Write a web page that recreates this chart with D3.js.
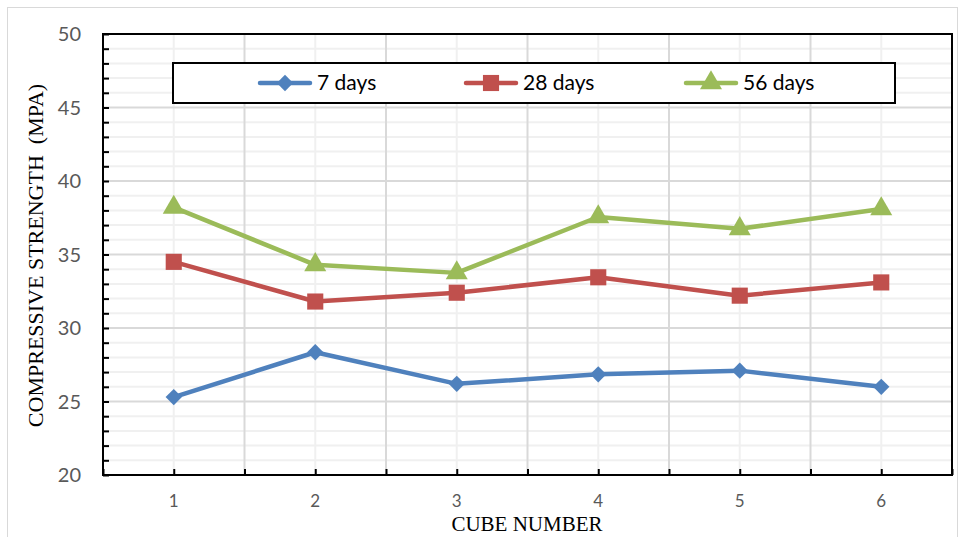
<html>
<head>
  <script src="https://cdnjs.cloudflare.com/ajax/libs/d3/7.8.5/d3.min.js"></script>
  <style>
    body { margin: 0; background: #fff; }
    .ylab, .xlab { font-family: Lato, "Open Sans", sans-serif; fill: #595959; }
    .title { font-family: "Liberation Serif", serif; fill: #000; white-space: pre; }
    .leg { font-family: Lato, "Open Sans", sans-serif; fill: #000; font-size: 21px; }
  </style>
</head>
<body>
  <div id="chart"></div>
  <script>
    // chart data
    var cubes = [1, 2, 3, 4, 5, 6];
    var days7 = [25.3, 28.35, 26.2, 26.85, 27.1, 26.0];
    var days28 = [34.5, 31.8, 32.4, 33.45, 32.2, 33.1];
    var days56 = [38.2, 34.3, 33.75, 37.55, 36.75, 38.1];
    var seriesNames = ["7 days", "28 days", "56 days"];
    var yTicks = [20, 25, 30, 35, 40, 45, 50];

    var series = [
      { name: seriesNames[0], values: days7, color: "#4f81bd", shape: "diamond" },
      { name: seriesNames[1], values: days28, color: "#c0504d", shape: "square" },
      { name: seriesNames[2], values: days56, color: "#9bbb59", shape: "triangle" }
    ];

    var svgWidth = 961, svgHeight = 537;
    var margin = { top: 34, right: 9, bottom: 62, left: 103 };
    var width = svgWidth - margin.left - margin.right;
    var height = svgHeight - margin.top - margin.bottom;

    var svg = d3.select("#chart").append("svg")
      .attr("width", svgWidth)
      .attr("height", svgHeight);

    // outer chart border
    svg.append("rect")
      .attr("x", 7.5).attr("y", 7.5)
      .attr("width", 950).attr("height", 545)
      .attr("fill", "none").attr("stroke", "#d9d9d9");

    var chart = svg.append("g")
      .attr("transform", "translate(" + margin.left + "," + margin.top + ")");

    // category axis: categories sit between tick marks
    var xScale = d3.scaleLinear().domain([0.5, 6.5]).range([0, width]);
    var yScale = d3.scaleLinear().domain([20, 50]).range([height, 0]);

    var minorY = d3.range(21, 50).filter(function(v) { return v % 5 !== 0; });
    var halfX = d3.range(1.5, 6.5, 1);

    // minor gridlines
    chart.selectAll(".gy-minor").data(minorY).enter().append("line")
      .attr("x1", 0).attr("x2", width)
      .attr("y1", function(d) { return yScale(d); }).attr("y2", function(d) { return yScale(d); })
      .attr("stroke", "#f0f0f0").attr("stroke-width", 2);
    chart.selectAll(".gx-minor").data(cubes).enter().append("line")
      .attr("y1", 0).attr("y2", height)
      .attr("x1", function(d) { return xScale(d); }).attr("x2", function(d) { return xScale(d); })
      .attr("stroke", "#f0f0f0").attr("stroke-width", 2);

    // major gridlines
    chart.selectAll(".gy-major").data(yTicks.slice(1, -1)).enter().append("line")
      .attr("x1", 0).attr("x2", width)
      .attr("y1", function(d) { return yScale(d); }).attr("y2", function(d) { return yScale(d); })
      .attr("stroke", "#d9d9d9").attr("stroke-width", 2);
    chart.selectAll(".gx-major").data(halfX).enter().append("line")
      .attr("y1", 0).attr("y2", height)
      .attr("x1", function(d) { return xScale(d); }).attr("x2", function(d) { return xScale(d); })
      .attr("stroke", "#d9d9d9").attr("stroke-width", 2);

    // inward tick marks
    var yAxis = d3.axisRight(yScale).tickValues(d3.range(20, 51, 1)).tickSize(6).tickFormat("");
    chart.append("g").call(yAxis)
      .call(function(g) { g.select(".domain").remove(); })
      .selectAll("line").attr("stroke", "#000").attr("stroke-width", 2);
    var xAxis = d3.axisTop(xScale).tickValues(d3.range(0.5, 6.6, 0.5)).tickSize(6).tickFormat("");
    chart.append("g").attr("transform", "translate(0," + height + ")").call(xAxis)
      .call(function(g) { g.select(".domain").remove(); })
      .selectAll("line").attr("stroke", "#000").attr("stroke-width", 2);

    // plot border
    chart.append("rect")
      .attr("x", 0).attr("y", 0).attr("width", width).attr("height", height)
      .attr("fill", "none").attr("stroke", "#000").attr("stroke-width", 2);

    // tick labels
    chart.selectAll(".ylab").data(yTicks).enter().append("text")
      .attr("class", "ylab")
      .attr("x", -22).attr("y", function(d) { return yScale(d); })
      .attr("dy", "0.35em").attr("text-anchor", "end")
      .style("font-size", "20px")
      .text(function(d) { return d; });
    chart.selectAll(".xlab").data(cubes).enter().append("text")
      .attr("class", "xlab")
      .attr("x", function(d) { return xScale(d); }).attr("y", height + 26)
      .attr("dy", "0.35em").attr("text-anchor", "middle")
      .style("font-size", "17px")
      .text(function(d) { return d; });

    // axis titles
    svg.append("text").attr("class", "title")
      .attr("transform", "translate(43," + (margin.top + height / 2 + 1) + ") rotate(-90)")
      .attr("text-anchor", "middle")
      .style("font-size", "22px")
      .text("COMPRESSIVE STRENGTH  (MPA)");
    svg.append("text").attr("class", "title")
      .attr("x", 527).attr("y", 531)
      .attr("text-anchor", "middle")
      .style("font-size", "21px")
      .text("CUBE NUMBER");

    function symbolFor(shape) {
      if (shape === "diamond") return d3.symbol().type(d3.symbolDiamond2).size(170)();
      if (shape === "square") return d3.symbol().type(d3.symbolSquare).size(260)();
      return d3.symbol().type(d3.symbolTriangle).size(210)();
    }

    var line = d3.line()
      .x(function(d, i) { return xScale(cubes[i]); })
      .y(function(d) { return yScale(d); });

    series.forEach(function(s) {
      chart.append("path")
        .attr("d", line(s.values))
        .attr("fill", "none").attr("stroke", s.color).attr("stroke-width", 4.5)
        .attr("stroke-linejoin", "round");
      chart.selectAll(null).data(s.values).enter().append("path")
        .attr("d", symbolFor(s.shape))
        .attr("transform", function(d, i) {
          return "translate(" + xScale(cubes[i]) + "," + yScale(d) + ")";
        })
        .attr("fill", s.color);
    });

    // legend
    var legend = svg.append("g");
    legend.append("rect")
      .attr("x", 173).attr("y", 63).attr("width", 722).attr("height", 40)
      .attr("fill", "#fff").attr("stroke", "#000").attr("stroke-width", 2);
    var legX = [260, 466, 686];
    series.forEach(function(s, i) {
      var g = legend.append("g").attr("transform", "translate(" + legX[i] + ",83)");
      g.append("line").attr("x1", 0).attr("x2", 50)
        .attr("stroke", s.color).attr("stroke-width", 4.5).attr("stroke-linecap", "round");
      g.append("path").attr("d", symbolFor(s.shape))
        .attr("transform", "translate(25,0)").attr("fill", s.color);
      g.append("text").attr("class", "leg")
        .attr("x", 57).attr("dy", "0.35em").text(s.name);
    });
  </script>
</body>
</html>
